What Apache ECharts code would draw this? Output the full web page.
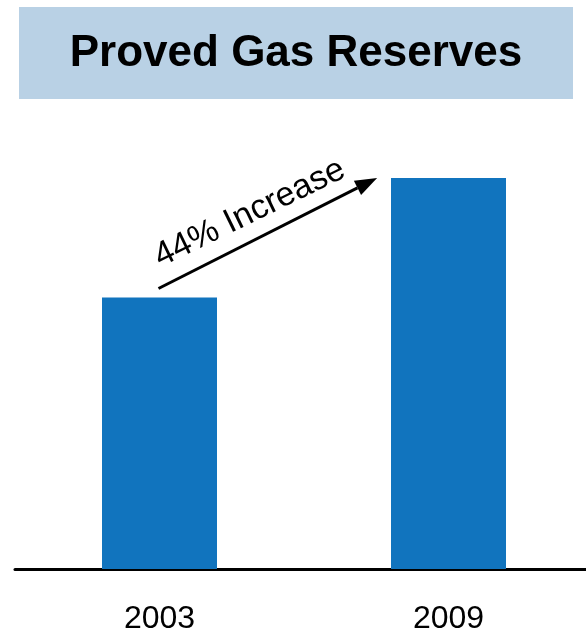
<!DOCTYPE html>
<html>
<head>
<meta charset="utf-8">
<script src="https://cdn.jsdelivr.net/npm/echarts@6/dist/echarts.min.js"></script>
<style>
  html, body { margin: 0; padding: 0; background: #ffffff; }
  #chart { width: 586px; height: 632px; }
</style>
</head>
<body>
<div id="chart"></div>
<script>
// Proved gas reserves, indexed to 2003 = 100
const years = ['2003', '2009'];
const reserves = [100, 144];
const increaseLabel = '44% Increase';

const chart = echarts.init(document.getElementById('chart'), null, { renderer: 'canvas' });

const FONT = '"Liberation Sans", Arial, Helvetica, sans-serif';

chart.setOption({
  animation: false,
  backgroundColor: '#ffffff',
  grid: { left: 15, right: -7, top: 26, bottom: 63, outerBoundsMode: 'none', containLabel: false },
  xAxis: {
    type: 'category',
    data: years,
    axisLine: { show: true, lineStyle: { color: '#000000', width: 3 } },
    axisTick: { show: false },
    axisLabel: { color: '#000000', fontSize: 32, fontFamily: FONT, margin: 34 }
  },
  yAxis: {
    type: 'value',
    min: 0,
    max: 200,
    show: false,
    splitLine: { show: false }
  },
  series: [{
    type: 'bar',
    data: reserves,
    barWidth: 115,
    itemStyle: { color: '#1174be' }
  }]
});

function drawOverlay() {
  // Arrow from just above the 2003 bar up to the level of the 2009 bar
  const p0 = chart.convertToPixel({ gridIndex: 0 }, [0, reserves[0]]);
  const p1 = chart.convertToPixel({ gridIndex: 0 }, [1, reserves[1]]);
  const startY = p0[1] - 9;
  const startX = p0[0] - 1;
  const endX = p0[0] + 0.753 * (p1[0] - p0[0]);
  const endY = p1[1];

  const ang = Math.atan2(endY - startY, endX - startX);
  const headLen = 22, headHalf = 8;
  const bx = endX - headLen * Math.cos(ang);
  const by = endY - headLen * Math.sin(ang);
  const nx = -Math.sin(ang), ny = Math.cos(ang);

  const midX = (startX + endX) / 2;
  const midY = (startY + endY) / 2;

  chart.setOption({
    graphic: [
      // Header band with the chart title
      {
        type: 'rect',
        shape: { x: 19, y: 7, width: 554, height: 92 },
        style: { fill: '#b9d1e5' },
        silent: true
      },
      {
        type: 'text',
        x: 296,
        y: 54,
        style: {
          text: 'Proved Gas Reserves',
          fill: '#000000',
          font: 'bold 44px ' + FONT,
          textAlign: 'center',
          textVerticalAlign: 'middle'
        },
        silent: true
      },
      {
        type: 'line',
        shape: { x1: startX, y1: startY, x2: bx, y2: by },
        style: { stroke: '#000000', lineWidth: 3 },
        silent: true
      },
      {
        type: 'polygon',
        shape: {
          points: [
            [endX, endY],
            [bx + nx * headHalf, by + ny * headHalf],
            [bx - nx * headHalf, by - ny * headHalf]
          ]
        },
        style: { fill: '#000000' },
        silent: true
      },
      {
        type: 'text',
        x: midX - 18,
        y: midY - 20,
        rotation: 26 * Math.PI / 180,
        style: {
          text: increaseLabel,
          fill: '#000000',
          font: '34px ' + FONT,
          textAlign: 'center',
          textVerticalAlign: 'middle'
        },
        silent: true
      }
    ]
  });
}
drawOverlay();
</script>
</body>
</html>
